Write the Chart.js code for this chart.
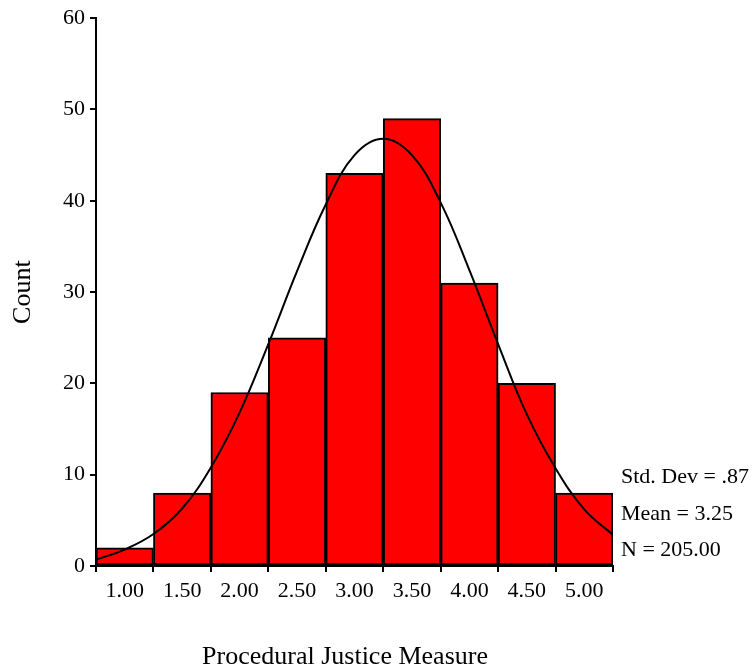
<!DOCTYPE html>
<html>
<head>
<meta charset="utf-8">
<title>Procedural Justice Measure</title>
<script src="https://cdn.jsdelivr.net/npm/chart.js@4.4.1/dist/chart.umd.min.js"></script>
<style>
    html, body { margin: 0; padding: 0; background: #fff; }
    #wrap { position: relative; width: 754px; height: 671px; }
</style>
</head>
<body>
<div id="wrap"><canvas id="histChart" width="754" height="671"></canvas></div>
<script>
// Bin centres and counts (bin width .50)
const binCenters = [1.00, 1.50, 2.00, 2.50, 3.00, 3.50, 4.00, 4.50, 5.00];
const binCounts = [2, 8, 19, 25, 43, 49, 31, 20, 8];

// Normal curve
const curveX = [0.75, 1.00, 1.25, 1.50, 1.75, 2.00, 2.25, 2.50, 2.75, 3.00,
                3.25, 3.50, 3.75, 4.00, 4.25, 4.50, 4.75, 5.00, 5.25];
const curveY = [0.7, 1.8, 3.5, 6.3, 10.8, 16.8, 24.3, 32.3, 39.6, 45.0,
                46.8, 45.0, 39.8, 32.4, 24.3, 16.6, 10.7, 6.2, 3.4];

const xTicks = [1.00, 1.50, 2.00, 2.50, 3.00, 3.50, 4.00, 4.50, 5.00];
const yTicks = [0, 10, 20, 30, 40, 50, 60];

const xTitle = 'Procedural Justice Measure';
const statLines = ['Std. Dev = .87', 'Mean = 3.25', 'N = 205.00'];

const SERIF = '"Liberation Serif", "Times New Roman", serif';

// Stats box to the right of the plot, x title under the axis
const textPlugin = {
    id: 'sideText',
    afterDraw(chart) {
        const ctx = chart.ctx;
        const area = chart.chartArea;
        ctx.save();
        ctx.fillStyle = '#000';
        ctx.textBaseline = 'alphabetic';

        ctx.font = '22px ' + SERIF;
        ctx.textAlign = 'left';
        statLines.forEach((line, i) => {
            ctx.fillText(line, area.right + 8, 483 + i * 36.5);
        });

        ctx.font = '26px ' + SERIF;
        ctx.textAlign = 'center';
        ctx.fillText(xTitle, area.left + 249, 664);
        ctx.restore();
    }
};

const ctx = document.getElementById('histChart');

new Chart(ctx, {
    type: 'bar',
    data: {
        datasets: [
            {
                type: 'line',
                label: 'Normal',
                data: curveX.map((x, i) => ({ x: x, y: curveY[i] })),
                borderColor: '#000',
                borderWidth: 2,
                pointRadius: 0,
                tension: 0.4,
                fill: false,
                order: 0
            },
            {
                type: 'bar',
                label: 'Count',
                data: binCenters.map((x, i) => ({ x: x, y: binCounts[i] })),
                backgroundColor: '#ff0000',
                borderColor: '#000',
                borderWidth: 2,
                borderSkipped: false,
                barPercentage: 1.0,
                categoryPercentage: 1.0,
                order: 1
            }
        ]
    },
    options: {
        responsive: false,
        animation: false,
        devicePixelRatio: 1,
        layout: {
            padding: { top: 18, right: 141, bottom: 0, left: 0 }
        },
        plugins: {
            legend: { display: false },
            tooltip: { enabled: false }
        },
        scales: {
            x: {
                type: 'linear',
                min: 0.75,
                max: 5.25,
                offset: false,
                afterBuildTicks: (scale) => {
                    scale.ticks = xTicks.map(v => ({ value: v }));
                },
                afterFit: (scale) => { scale.height = 105; },
                ticks: {
                    color: '#000',
                    font: { family: SERIF, size: 22 },
                    padding: 6,
                    maxRotation: 0,
                    autoSkip: false,
                    callback: (value) => Number(value).toFixed(2)
                },
                grid: {
                    display: true,
                    drawOnChartArea: false,
                    drawTicks: true,
                    tickLength: 6,
                    color: '#000',
                    lineWidth: 2
                },
                border: { display: true, color: '#000', width: 2 },
                title: { display: false }
            },
            y: {
                min: 0,
                max: 60,
                afterBuildTicks: (scale) => {
                    scale.ticks = yTicks.map(v => ({ value: v }));
                },
                afterFit: (scale) => { scale.width = 96; },
                ticks: {
                    color: '#000',
                    font: { family: SERIF, size: 22 },
                    padding: 5
                },
                grid: {
                    display: true,
                    drawOnChartArea: false,
                    drawTicks: true,
                    tickLength: 6,
                    color: '#000',
                    lineWidth: 2
                },
                border: { display: true, color: '#000', width: 2 },
                title: {
                    display: true,
                    text: 'Count',
                    color: '#000',
                    font: { family: SERIF, size: 26, weight: 'normal' },
                    padding: { top: 8, bottom: 0 }
                }
            }
        }
    },
    plugins: [textPlugin]
});
</script>
</body>
</html>
